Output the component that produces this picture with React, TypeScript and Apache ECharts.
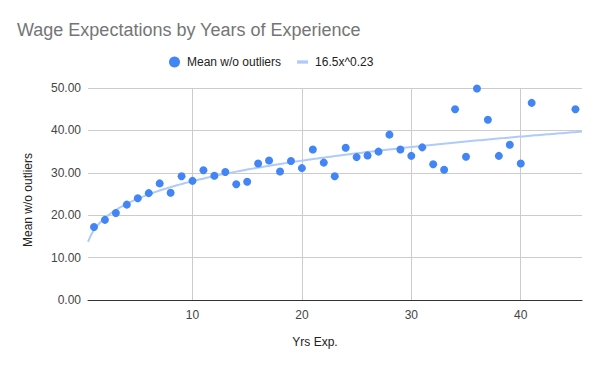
import React, { useEffect, useRef } from "react";
import * as echarts from "echarts";

const TITLE = "Wage Expectations by Years of Experience";
const SERIES_NAME = "Mean w/o outliers";
const X_NAME = "Yrs Exp.";
const Y_NAME = "Mean w/o outliers";

const yearsExp = [1, 2, 3, 4, 5, 6, 7, 8, 9, 10, 11, 12, 13, 14, 15, 16, 17, 18, 19, 20, 21, 22, 23, 24, 25, 26, 27, 28, 29, 30, 31, 32, 33, 34, 35, 36, 37, 38, 39, 40, 41, 45];
const meanWage = [17.2, 18.9, 20.5, 22.5, 24.0, 25.2, 27.5, 25.3, 29.2, 28.1, 30.6, 29.3, 30.2, 27.3, 27.9, 32.2, 32.9, 30.3, 32.8, 31.1, 35.5, 32.4, 29.2, 35.9, 33.7, 34.1, 35.0, 39.0, 35.5, 34.0, 36.0, 32.0, 30.7, 45.0, 33.8, 49.9, 42.5, 34.0, 36.6, 32.2, 46.5, 45.0];

// Trendline coefficients as shown in the legend: 16.5x^0.23
const TREND_A = 16.5;
const TREND_B = 0.23;
const TREND_NAME = `${TREND_A}x^${TREND_B}`;

const X_MIN = 0.45;
const X_MAX = 45.6;
const xTickValues = [10, 20, 30, 40];

const FONT = "'Liberation Sans', Arial, sans-serif";

export default function App() {
  const ref = useRef<HTMLDivElement>(null);

  useEffect(() => {
    if (!ref.current) return;
    const chart = echarts.init(ref.current, null, { renderer: "svg" });

    const trendData: number[][] = [];
    const steps = 200;
    for (let i = 0; i <= steps; i++) {
      const x = X_MIN + ((X_MAX - X_MIN) * i) / steps;
      trendData.push([x, TREND_A * Math.pow(x, TREND_B)]);
    }

    chart.setOption({
      animation: false,
      backgroundColor: "#ffffff",
      textStyle: { fontFamily: FONT },
      title: {
        text: TITLE,
        left: 12,
        top: 16,
        textStyle: { fontFamily: FONT, fontSize: 18, fontWeight: "normal", color: "#757575" },
      },
      legend: {
        left: 164,
        top: 51,
        itemWidth: 11,
        itemHeight: 11,
        itemGap: 16,
        textStyle: { fontFamily: FONT, fontSize: 12, color: "#222222", padding: [0, 0, 0, 2] },
        data: [
          { name: SERIES_NAME, icon: "circle" },
          { name: TREND_NAME, icon: "path://M0,0h10v3h-10z" },
        ],
      },
      grid: { left: 88, right: 18, top: 88, bottom: 71, containLabel: false },
      xAxis: {
        type: "value",
        min: X_MIN,
        max: X_MAX,
        axisLine: { show: true, lineStyle: { color: "#333333", width: 1 } },
        axisTick: { show: false, customValues: xTickValues },
        axisLabel: {
          customValues: xTickValues,
          color: "#444444",
          fontFamily: FONT,
          fontSize: 12,
          margin: 9,
          formatter: (v: number) => String(Math.round(v)),
        },
        splitLine: { show: true, lineStyle: { color: "#cccccc", width: 1 } },
      },
      yAxis: {
        type: "value",
        min: 0,
        max: 50,
        interval: 10,
        axisLine: { show: false },
        axisTick: { show: false },
        axisLabel: {
          color: "#444444",
          fontFamily: FONT,
          fontSize: 12,
          margin: 7,
          formatter: (v: number) => v.toFixed(2),
        },
        splitLine: { show: true, lineStyle: { color: "#cccccc", width: 1 } },
      },
      graphic: [
        {
          type: "text",
          x: 315,
          y: 342,
          style: { text: X_NAME, fontFamily: FONT, fontSize: 12, fill: "#222222", align: "center", verticalAlign: "middle" },
        },
        {
          type: "text",
          x: 28,
          y: 200,
          rotation: Math.PI / 2,
          style: { text: Y_NAME, fontFamily: FONT, fontSize: 12, fill: "#222222", align: "center", verticalAlign: "middle" },
        },
      ],
      series: [
        {
          name: TREND_NAME,
          type: "line",
          data: trendData,
          showSymbol: false,
          symbol: "none",
          smooth: false,
          color: "#aecbfa",
          lineStyle: { color: "#aecbfa", width: 2 },
          itemStyle: { color: "#aecbfa" },
          z: 1,
          silent: true,
        },
        {
          name: SERIES_NAME,
          type: "scatter",
          data: yearsExp.map((x, i) => [x, meanWage[i]]),
          symbol: "circle",
          symbolSize: 8,
          itemStyle: { color: "#4285f4", opacity: 1 },
          z: 3,
        },
      ],
    });

    return () => chart.dispose();
  }, []);

  return (
    <div
      ref={ref}
      style={{ position: "absolute", left: 0, top: 0, width: 600, height: 371 }}
    />
  );
}
